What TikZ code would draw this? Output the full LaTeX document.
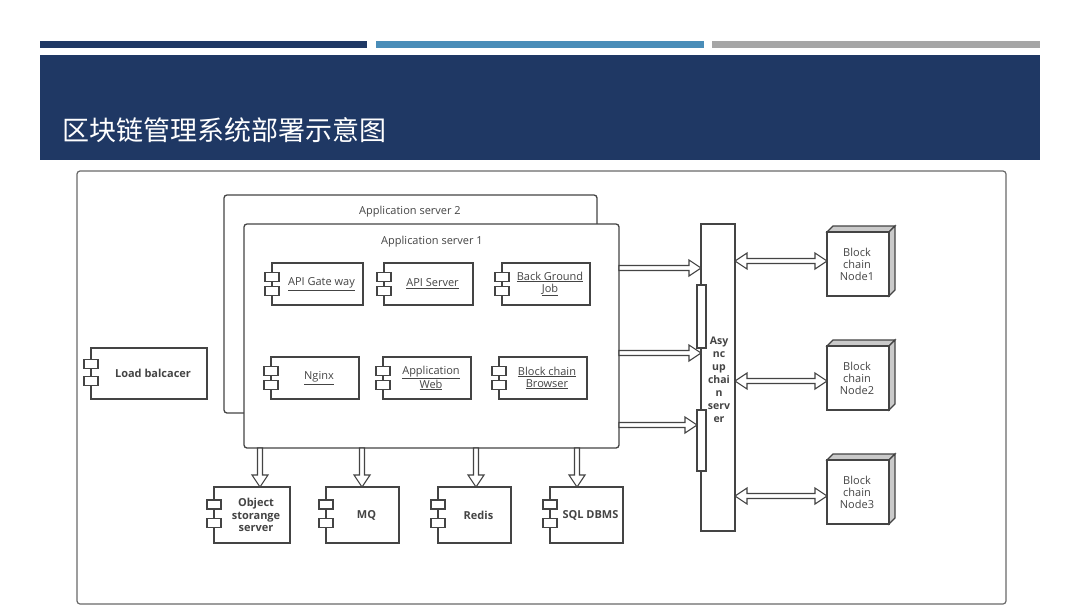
\documentclass[tikz,border=0pt]{standalone}
\usepackage{fontspec}
\setmainfont{Open Sans}
\newfontfamily\cjk{Noto Sans CJK SC}
\usetikzlibrary{calc}
\definecolor{navy}{HTML}{1F3864}
\definecolor{midblue}{HTML}{4A8DB8}
\definecolor{lgray}{HTML}{A6A6A6}
\definecolor{ln}{HTML}{444444}
\begin{document}
\begin{tikzpicture}[x=1pt,y=-1pt,
  box/.style={draw=ln,line width=1.3pt,fill=white},
  lab/.style={font=\fontsize{11}{12}\selectfont,text=ln,align=center},
  blab/.style={font=\bfseries\fontsize{11}{12.5}\selectfont,text=ln,align=center},
  harr/.style={to path={let \p1=(\tikztostart),\p2=(\tikztotarget) in
    (\x1,\y1+2.5pt) -- (\x2-12pt,\y1+2.5pt) -- (\x2-12pt,\y1+8pt) -- (\x2,\y1) -- (\x2-12pt,\y1-8pt) -- (\x2-12pt,\y1-2.5pt) -- (\x1,\y1-2.5pt) -- cycle}},
  darr/.style={to path={let \p1=(\tikztostart),\p2=(\tikztotarget) in
    (\x1,\y1) -- (\x1+12pt,\y1+8pt) -- (\x1+12pt,\y1+2.5pt) -- (\x2-12pt,\y1+2.5pt) -- (\x2-12pt,\y1+8pt) -- (\x2,\y1) -- (\x2-12pt,\y1-8pt) -- (\x2-12pt,\y1-2.5pt) -- (\x1+12pt,\y1-2.5pt) -- (\x1+12pt,\y1-8pt) -- cycle}},
  varr/.style={to path={let \p1=(\tikztostart),\p2=(\tikztotarget) in
    (\x1-2.5pt,\y1) -- (\x1-2.5pt,\y2+12pt) -- (\x1-8pt,\y2+12pt) -- (\x1,\y2) -- (\x1+8pt,\y2+12pt) -- (\x1+2.5pt,\y2+12pt) -- (\x1+2.5pt,\y1) -- cycle}},
  arrs/.style={draw=ln,line width=1.1pt,fill=white}
]
\useasboundingbox (0,0) rectangle (1080,608);
\fill[white] (0,0) rectangle (1080,608);
% header
\fill[navy] (40,41) rectangle (367,48);
\fill[midblue] (376,41) rectangle (704,48);
\fill[lgray] (712,41) rectangle (1040,48);
\fill[navy] (40,55) rectangle (1040,160);
\node[anchor=west,text=white,font=\cjk\fontsize{27}{29}\selectfont] (title) at (59,130) {区块链管理系统部署示意图};
% frame
\draw[draw=ln!80,line width=1.2pt,rounded corners=3pt] (77,171) rectangle (1006,604);

\newcommand{\comp}[7]{%
  \node[box,minimum width=#4-#2,minimum height=#5-#3,inner sep=0pt] (#1) at ({(#2+#4)/2},{(#3+#5)/2}) {};
  \node[#7] (#1t) at ({(#2+#4)/2+4},{(#3+#5)/2}) {#6};
  \draw[box] (#2-7,{#3+(#5-#3)*0.23}) rectangle (#2+7,{#3+(#5-#3)*0.23+9});
  \draw[box] (#2-7,{#3+(#5-#3)*0.56}) rectangle (#2+7,{#3+(#5-#3)*0.56+9});
}
% load balancer
\comp{lb}{91}{348}{207}{399}{Load balcacer}{blab}
% app servers
\draw[box,rounded corners=3pt] (224,195) rectangle (597,413);
\node[lab] (as2t) at (410,212) {Application server 2};
\node[box,rounded corners=3pt,minimum width=375,minimum height=224,inner sep=0pt] (as1) at (431.5,336) {};
\node[lab] (as1t) at (432,242) {Application server 1};
\comp{c1}{272}{263}{363}{305}{\underline{API Gate way}}{lab}
\comp{c2}{384}{263}{473}{305}{\underline{API Server}}{lab}
\comp{c3}{502}{263}{590}{305}{\underline{Back Ground}\\\underline{Job}}{lab}
\comp{c4}{271}{357}{359}{399}{\underline{Nginx}}{lab}
\comp{c5}{383}{357}{471}{399}{\underline{Application}\\\underline{Web}}{lab}
\comp{c6}{499}{357}{587}{399}{\underline{Block chain}\\\underline{Browser}}{lab}
% bottom
\comp{b1}{214}{487}{290}{543}{Object\\storange\\server}{blab}
\comp{b2}{326}{487}{399}{543}{MQ}{blab}
\comp{b3}{438}{487}{511}{543}{Redis}{blab}
\comp{b4}{550}{487}{623}{543}{SQL DBMS}{blab}
\foreach \px in {260,362,476,577}
  \path[arrs] (\px,448) to[varr] (\px,487);
% async
\node[box,minimum width=34,minimum height=307,inner sep=0pt] (async) at (718,377.5) {};
\draw[box] (697,285) rectangle (706,348);
\draw[box] (697,410) rectangle (706,471);
\node[blab,font=\bfseries\fontsize{10.5}{13}\selectfont] (asynct) at (719,380) {Asy\\nc\\up\\chai\\n\\serv\\er};
\foreach \py/\pe in {268/701,353/701,425/697}
  \path[arrs] (619,\py) to[harr] (\pe,\py);
% nodes
\foreach \i/\py in {1/232,2/346,3/460}{
  \fill[lgray!60,draw=ln,line width=1.2pt] (827,\py) -- (833,\py-6) -- (895,\py-6) -- (889,\py) -- cycle;
  \fill[lgray!60,draw=ln,line width=1.2pt] (889,\py) -- (895,\py-6) -- (895,\py+58) -- (889,\py+64) -- cycle;
  \node[box,minimum width=62,minimum height=64,inner sep=0pt] (n\i) at (858,\py+32) {};
  \node[lab] (n\i t) at (857,\py+32) {Block\\chain\\Node\i};
}
\foreach \py in {261,381,496}
  \path[arrs] (735,\py) to[darr] (827,\py);
\end{tikzpicture}
\end{document}
